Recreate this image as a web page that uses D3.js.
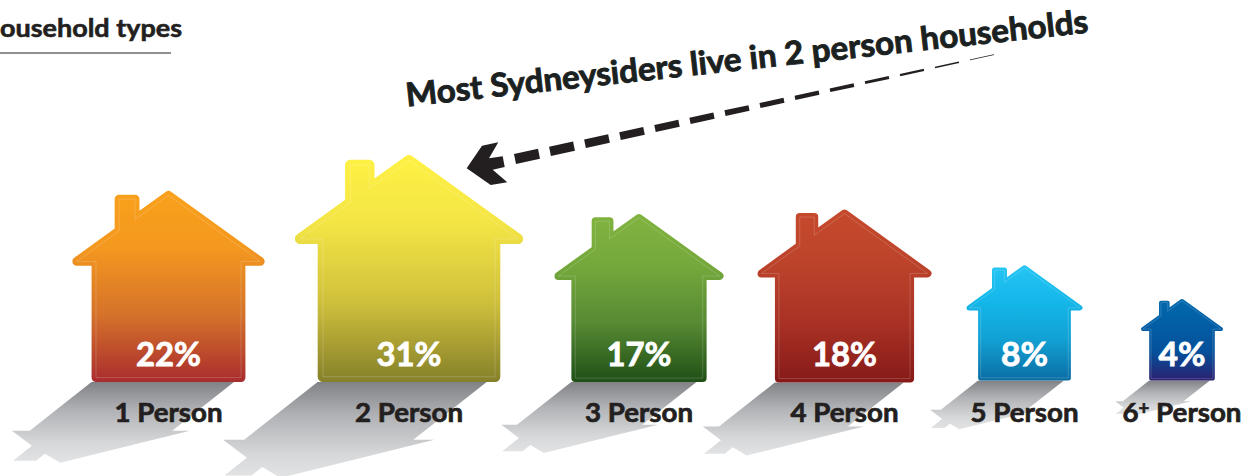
<!DOCTYPE html>
<html>
<head>
<meta charset="utf-8">
<script src="https://cdn.jsdelivr.net/npm/d3@7/dist/d3.min.js"></script>
<style>
html,body{margin:0;padding:0;background:#fff;overflow:hidden}
svg{display:block}
text{font-family:Lato,"Open Sans",sans-serif;font-weight:700;paint-order:stroke}
</style>
</head>
<body>
<svg id="c" width="1256" height="476"></svg>
<script>
const categories = ["1 Person","2 Person","3 Person","4 Person","5 Person","6+ Person"];
const shares = [22,31,17,18,8,4];
const title = "ousehold types";
const headline = "Most Sydneysiders live in 2 person households";
const gradients = [
  ["#f9a11b","#f4981f","#d5722a","#a92c2e"],
  ["#fff143","#f4e545","#cfc03c","#85802a"],
  ["#80b33f","#76a93c","#578a33","#1f4f16"],
  ["#c6492c","#bd442b","#a93225","#861a18"],
  ["#26c5f4","#14b8ea","#12a0d3","#0a6da4"],
  ["#0068ac","#035fa6","#05509a","#2b2070"]
];

const svg = d3.select("#c");
const defs = svg.append("defs");

// layout scales
const xCenter = d3.scaleOrdinal().domain(categories).range([168.5,409,639,844.5,1024.5,1182]);
const baseY = d3.scaleOrdinal().domain(categories).range([382,382,382,382.5,380.5,380.5]);
const houseSize = d3.scaleSqrt().domain([0,100]).range([0,410]);

// unit house, u across (-.5..+.5), v upward (0..1)
const inner = [[-.477,.627],[-.257,.786],[-.257,.951],[-.174,.951],[-.174,.846],[0,.971],[.477,.627],[.377,.627],[.377,.023],[-.377,.023],[-.377,.627]];
const outerShadow = [[-.5,.603],[-.28,.79],[-.28,.974],[-.151,.974],[-.151,.887],[0,1],[.5,.603],[.4,.603],[.4,0],[-.4,0],[-.4,.603]];
const unitLine = d3.line().x(d=>d[0]).y(d=>d[1]).curve(d3.curveLinearClosed);

// shadow gradient
const sg = defs.append("linearGradient").attr("id","shadow").attr("x1",0).attr("y1",0).attr("x2",0).attr("y2",1);
sg.append("stop").attr("offset",0).attr("stop-color","#808285");
sg.append("stop").attr("offset",.35).attr("stop-color","#b0b2b5");
sg.append("stop").attr("offset",.75).attr("stop-color","#d6d7d9");
sg.append("stop").attr("offset",1).attr("stop-color","#e2e3e5");

const data = categories.map((c,i)=>({c,v:shares[i],i}));

// shadows first
svg.append("g").selectAll("path").data(data).join("path")
  .attr("d",d=>{
    const w=houseSize(d.v),cx=xCenter(d.c),by=baseY(d.c);
    return unitLine(outerShadow.map(([u,v])=>[cx+w*(-.03+.926*u-.533*v),by+.42*w*v]));
  })
  .attr("fill","url(#shadow)");

// houses
data.forEach(d=>{
  const g=defs.append("linearGradient").attr("id","h"+d.i).attr("gradientUnits","userSpaceOnUse")
    .attr("x1",0).attr("x2",0)
    .attr("y1",baseY(d.c)-houseSize(d.v)).attr("y2",baseY(d.c));
  [0,.3,.65,1].forEach((o,k)=>g.append("stop").attr("offset",o).attr("stop-color",gradients[d.i][k]));
});
const gh=svg.append("g");
const toPts=d=>{
  const w=houseSize(d.v),cx=xCenter(d.c),by=baseY(d.c);
  return inner.map(([u,v])=>[cx+w*u,by-w*v]);
};
gh.selectAll("path.h").data(data).join("path").attr("class","h")
  .attr("d",d=>unitLine(toPts(d)))
  .attr("fill",d=>`url(#h${d.i})`)
  .attr("stroke",d=>`url(#h${d.i})`)
  .attr("stroke-width",d=>houseSize(d.v)*.046)
  .attr("stroke-linejoin","round");
gh.selectAll("path.l").data(data).join("path").attr("class","l")
  .attr("d",d=>unitLine(toPts(d)))
  .attr("fill","none").attr("stroke","#fff").attr("stroke-opacity",.22).attr("stroke-width",.8);

// value labels
svg.append("g").selectAll("text").data(data).join("text")
  .attr("x",d=>xCenter(d.c)).attr("y",366)
  .attr("text-anchor","middle").attr("fill","#fff").attr("stroke","#fff").attr("stroke-width",.8)
  .attr("font-size",33)
  .attr("textLength",d=>d.v<10?47:65).attr("lengthAdjust","spacingAndGlyphs")
  .text(d=>d.v+"%");

// category labels
const catG=svg.append("g").selectAll("text").data(data).join("text")
  .attr("x",d=>xCenter(d.c)).attr("y",421.7)
  .attr("text-anchor","middle").attr("fill","#231f20").attr("stroke","#231f20").attr("stroke-width",.7)
  .attr("font-size",27)
  .attr("textLength",d=>d.i===5?119:108).attr("lengthAdjust","spacingAndGlyphs");
catG.each(function(d){
  const t=d3.select(this), m=d.c.match(/^(\d)(\+)(.*)$/);
  if(m){
    t.append("tspan").text(m[1]);
    t.append("tspan").attr("dy",-7).attr("font-size",18).text(m[2]);
    t.append("tspan").attr("dy",7).text(m[3]);
  } else t.text(d.c);
});

// title + rule
svg.append("text").attr("x",0).attr("y",37.3).attr("fill","#231f20").attr("stroke","#231f20").attr("stroke-width",.6)
  .attr("font-size",24.5)
  .attr("textLength",182).attr("lengthAdjust","spacingAndGlyphs").text(title);
svg.append("line").attr("x1",0).attr("x2",171).attr("y1",53).attr("y2",53).attr("stroke","#231f20").attr("stroke-width",1);

// headline
svg.append("text").attr("transform","translate(407,106.5) rotate(-6.2)")
  .attr("fill","#1a2120").attr("stroke","#1a2120").attr("stroke-width",.9).attr("font-size",32.5)
  .attr("textLength",686).attr("lengthAdjust","spacingAndGlyphs").text(headline);

// arrow
const polyLine=d3.line().curve(d3.curveLinearClosed);
svg.append("path").attr("fill","#231f20").attr("d",polyLine([[466.7,168.3],[482,145.7],[498.3,142.3],[489,158.3],[502.7,156.3],[504.7,167],[492.7,169.7],[507.3,182.3],[490.7,185]]));
const dashIdx=d3.range(14);
const dashX=d3.scaleLinear().domain([0,13]).range([515,970]);
const dashThick=d3.scaleLinear().domain([0,13]).range([10,.7]);
const slope=-.218;
svg.append("g").selectAll("path").data(dashIdx).join("path").attr("fill","#231f20")
  .attr("d",i=>{
    const x0=dashX(i),x1=x0+24,y=x=>159+(x-515)*slope,h=dashThick(i)/2;
    return polyLine([[x0-h*.2,y(x0)-h],[x1-h*.2,y(x1)-h],[x1+h*.2,y(x1)+h],[x0+h*.2,y(x0)+h]]);
  });
</script>
</body>
</html>
